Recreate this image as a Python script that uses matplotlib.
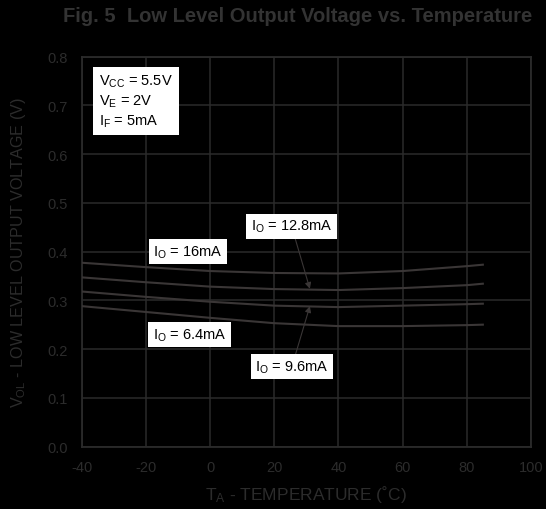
import matplotlib
matplotlib.use('Agg')
import matplotlib.pyplot as plt

plt.rcParams['font.family'] = ['Liberation Sans', 'DejaVu Sans']
plt.rcParams['mathtext.fontset'] = 'custom'
plt.rcParams['mathtext.rm'] = 'Liberation Sans'
plt.rcParams['mathtext.it'] = 'Liberation Sans'

# datos
temps = [-40, -20, 0, 20, 40, 60, 80, 85]
vol_16 = [0.377, 0.368, 0.360, 0.356, 0.355, 0.360, 0.370, 0.373]
vol_128 = [0.347, 0.337, 0.328, 0.323, 0.321, 0.325, 0.331, 0.334]
vol_96 = [0.318, 0.307, 0.297, 0.289, 0.286, 0.289, 0.292, 0.293]
vol_64 = [0.288, 0.276, 0.264, 0.253, 0.247, 0.247, 0.249, 0.250]

x_ticks = [-40, -20, 0, 20, 40, 60, 80, 100]
y_ticks = [0.0, 0.1, 0.2, 0.3, 0.4, 0.5, 0.6, 0.7, 0.8]

text_col = '#2c2c2c'
grid_col = '#2b2b2b'
line_col = '#3a3636'

fig = plt.figure(figsize=(5.46, 5.10), dpi=100, facecolor='black')
ax = fig.add_axes([0.1496, 0.1225, 0.8229, 0.7647], facecolor='black')

for v in [vol_16, vol_128, vol_96, vol_64]:
    ax.plot(temps, v, '-', color=line_col, lw=1.5, zorder=3)

ax.set_xlim(-40, 100)
ax.set_ylim(0, 0.8)
ax.set_xticks(x_ticks)
ax.set_yticks(y_ticks)
ax.set_xticklabels([str(t) for t in x_ticks])
ax.set_yticklabels(['%.1f' % t for t in y_ticks])
ax.tick_params(length=0, colors=text_col, labelsize=10.5)
ax.tick_params(axis='x', pad=10)
ax.tick_params(axis='y', pad=10)
ax.grid(True, color=grid_col, lw=1.1)
for s in ax.spines.values():
    s.set_color(grid_col)
    s.set_linewidth(1.3)

ax.set_xlabel(r'T$_{\mathrm{A}}$ - TEMPERATURE (˚C)', color=text_col, fontsize=12.5, labelpad=6)
ax.set_ylabel(r'V$_{\mathrm{OL}}$ - LOW LEVEL OUTPUT VOLTAGE (V)', color=text_col, fontsize=11.6, labelpad=14)

fig.text(0.545, 0.968, 'Fig. 5  Low Level Output Voltage vs. Temperature',
         ha='center', va='center', color='#333333', fontsize=14.5, fontweight='bold')

box = dict(boxstyle='square,pad=0.3', fc='white', ec='none')
ax.text(-34.6, 0.767,
        'V$_{\\mathrm{CC}}$ = 5.5V\nV$_{\\mathrm{E}}$ = 2V\nI$_{\\mathrm{F}}$ = 5mA',
        ha='left', va='top', fontsize=10.5, color='black', linespacing=1.3,
        bbox=dict(boxstyle='square,pad=0.4', fc='white', ec='none'), zorder=5)

ax.text(-6.9, 0.400, r'I$_{\mathrm{O}}$ = 16mA', ha='center', va='center',
        fontsize=10.5, color='black', bbox=box, zorder=5)
ax.text(-6.4, 0.229, r'I$_{\mathrm{O}}$ = 6.4mA', ha='center', va='center',
        fontsize=10.5, color='black', bbox=box, zorder=5)

arrow = dict(arrowstyle='-|>', color=line_col, lw=0.8, mutation_scale=9, shrinkA=0, shrinkB=0)
ax.annotate(r'I$_{\mathrm{O}}$ = 12.8mA', xy=(31.1, 0.3235), xytext=(25.4, 0.452),
            ha='center', va='center', fontsize=10.5, color='black',
            bbox=box, arrowprops=arrow, zorder=5)
ax.annotate(r'I$_{\mathrm{O}}$ = 9.6mA', xy=(31.1, 0.288), xytext=(25.5, 0.164),
            ha='center', va='center', fontsize=10.5, color='black',
            bbox=box, arrowprops=arrow, zorder=5)

plt.savefig('out.png', dpi=100, facecolor='black')
